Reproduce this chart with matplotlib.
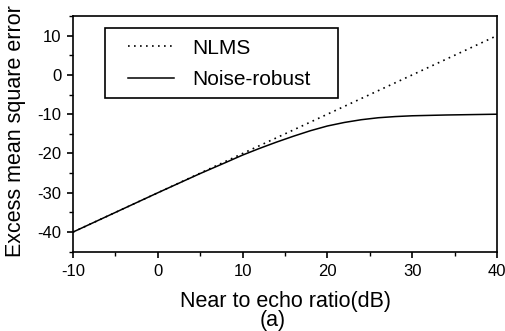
import numpy as np
import matplotlib
matplotlib.use('Agg')
import matplotlib.pyplot as plt
from matplotlib.ticker import MultipleLocator
from matplotlib.patches import Rectangle

plt.rcParams['font.family'] = ['Liberation Sans', 'DejaVu Sans']
plt.rcParams['axes.unicode_minus'] = False

# values
nlms_x = [-10, 0, 10, 20, 30, 40]
nlms_y = [-40, -30, -20, -10, 0, 10]

robust_x = [-10, -5, 0, 5, 8, 10, 12, 14, 16, 18, 20, 22, 24, 26, 28, 30, 34, 40]
robust_y = [-40, -35, -30, -25.1, -22.3, -20.4, -18.7, -17.1, -15.6, -14.2,
            -13.0, -12.1, -11.4, -10.9, -10.6, -10.4, -10.2, -10.0]

xlabel = 'Near to echo ratio(dB)'
ylabel = 'Excess mean square error'

fig = plt.figure(figsize=(5.06, 3.31), dpi=100)
ax = fig.add_axes([73/506, 1-251.7/331, 424/506, 235.7/331])

ax.plot(nlms_x, nlms_y, color='black', lw=1.2, linestyle=(0, (1, 2.6)), label='NLMS')
ax.plot(robust_x, robust_y, color='black', lw=1.1, label='Noise-robust')

ax.set_xlim(-10, 40)
ax.set_ylim(-45, 15)
ax.xaxis.set_major_locator(MultipleLocator(10))
ax.xaxis.set_minor_locator(MultipleLocator(5))
ax.yaxis.set_major_locator(MultipleLocator(10))
ax.yaxis.set_minor_locator(MultipleLocator(5))
ax.set_yticks([-40, -30, -20, -10, 0, 10])

for s in ax.spines.values():
    s.set_linewidth(1.2)
ax.tick_params(which='major', direction='out', length=4.5, width=1.2, labelsize=12, pad=4)
ax.tick_params(which='minor', direction='out', length=3, width=1.0)
ax.tick_params(axis='x', pad=4)

ax.set_xlabel(xlabel, fontsize=15.5)
ax.xaxis.label.set_va('baseline')
ax.xaxis.set_label_coords(0.5, (251.7-306.7)/235.7)
ax.set_ylabel(ylabel, fontsize=15.5)
ax.yaxis.label.set_va('center')
ax.yaxis.set_label_coords((16-73)/424, 0.51)

fig.text(273/506, 1-326/331, '(a)', fontsize=15.5, ha='center', va='baseline')

# legend box
ax.add_patch(Rectangle((0.075, 0.652), 0.55, 0.297, transform=ax.transAxes,
                       fill=False, lw=1.2, edgecolor='black', zorder=3))
leg = ax.legend(loc='upper left', bbox_to_anchor=((128-73)/424, (251.7-38.5)/235.7),
                frameon=False, fontsize=15, handlelength=2.2, handletextpad=0.9,
                labelspacing=0.62, borderpad=0, borderaxespad=0)

fig.savefig('out.png', dpi=100)
